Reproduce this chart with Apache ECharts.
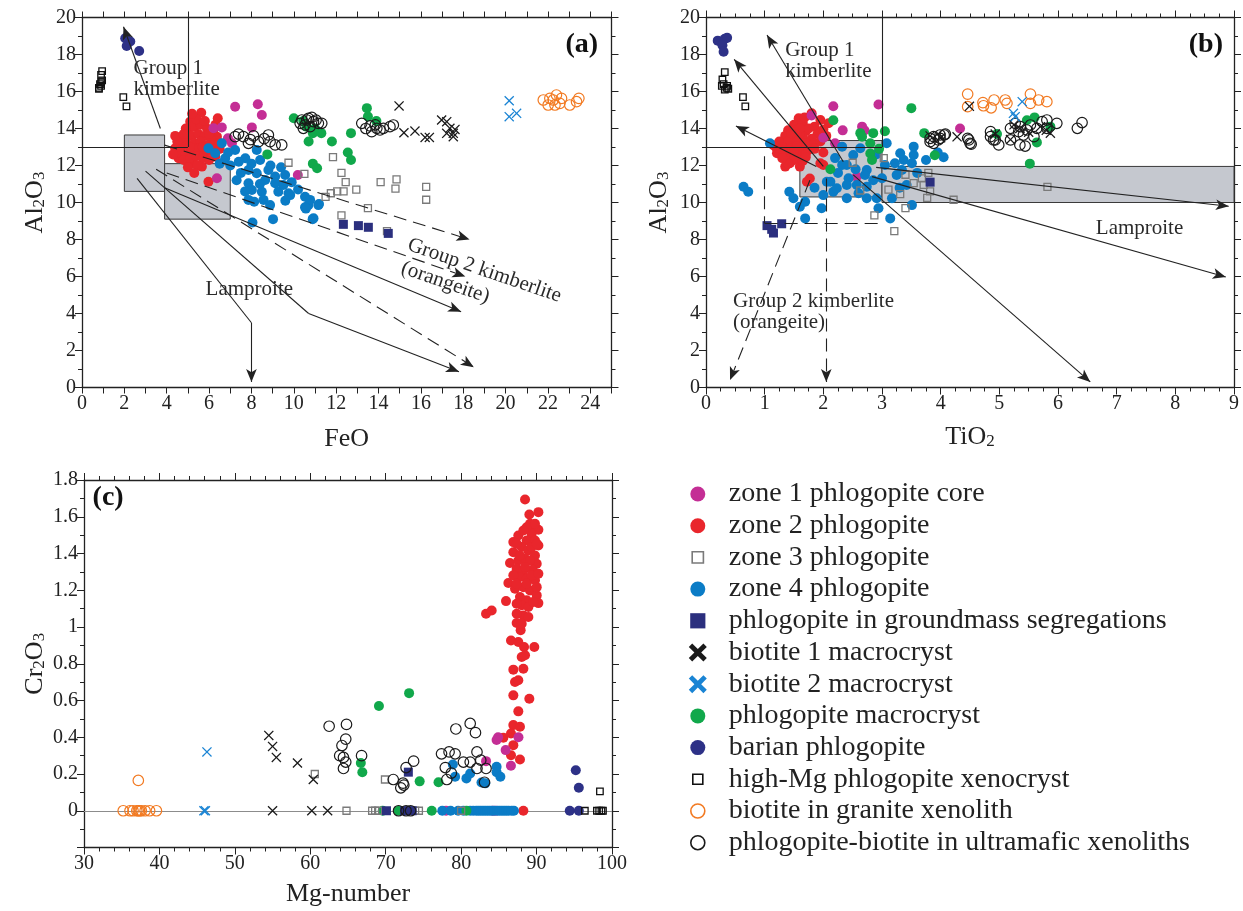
<!DOCTYPE html>
<html><head><meta charset="utf-8">
<script src="https://cdn.jsdelivr.net/npm/echarts@6/dist/echarts.min.js"></script>
<style>html,body{margin:0;padding:0;background:#fff}#c{width:1243px;height:911px}</style>
</head><body><div id="c"></div>
<script>
// ---------- tick labels ----------
const feoTicks = [0,2,4,6,8,10,12,14,16,18,20,22,24];
const alTicks = [0,2,4,6,8,10,12,14,16,18,20];
const tiTicks = [0,1,2,3,4,5,6,7,8,9];
const mgTicks = [30,40,50,60,70,80,90,100];
const crTicks = [0,0.2,0.4,0.6,0.8,1,1.2,1.4,1.6,1.8];

// ---------- legend names ----------
const seriesNames = ['zone 1 phlogopite core','zone 2 phlogopite','zone 3 phlogopite','zone 4 phlogopite',
 'phlogopite in groundmass segregations','biotite 1 macrocryst','biotite 2 macrocryst','phlogopite macrocryst',
 'barian phlogopite','high-Mg phlogopite xenocryst','biotite in granite xenolith','phlogopite-biotite in ultramafic xenoliths'];

// ---------- panel (a): FeO vs Al2O3 ----------
const zone1A = [[7.23,15.18],[8.3,15.31],[8.49,14.73],[6.21,14.01],[6.6,14.06],[6.89,13.47],[7.08,13.2],[8.02,14.06],[10.19,11.49],[6.37,11.31]];
const zone2A = [[5.63,14.85],[6.41,14.55],[5.11,14.37],[4.72,13.56],[4.4,12.93],[4.56,12.39],[5.19,12.12],[5.97,11.12],[5.66,11.94],[6.29,12.48],[6.37,13.56],
 [5.0,13.9],[5.3,14.1],[5.6,14.2],[5.9,14.0],[6.2,13.9],[4.9,13.4],[5.2,13.6],[5.5,13.7],[5.8,13.6],[6.1,13.4],[4.7,13.0],[5.0,13.1],[5.3,13.2],[5.6,13.3],[5.9,13.1],[6.2,13.1],
 [4.6,12.7],[4.9,12.6],[5.2,12.8],[5.5,12.9],[5.8,12.7],[6.1,12.8],[4.8,12.3],[5.1,12.4],[5.4,12.5],[5.7,12.4],[6.0,12.3],[5.45,12.0],[4.5,13.3],[5.4,14.5],[5.8,14.4],
 [6.0,13.7],[4.4,13.6],[4.3,12.6],[5.0,11.9],[6.5,13.2],[6.5,12.9],[5.3,11.6],[4.9,14.0],[5.7,13.0],[5.1,13.0],[4.8,13.7],[6.3,14.2],[5.2,14.8]];
const zone3A = [[9.75,12.15],[10.5,11.55],[11.85,12.45],[12.25,11.6],[12.45,11.1],[12.95,10.7],[12.35,10.6],[12.05,10.6],[11.75,10.5],[11.5,10.3],[14.1,11.1],[14.85,11.25],[14.8,10.75],[16.25,10.85],[16.25,10.15],[13.5,9.7],[12.25,9.3],[14.4,8.45]];
const zone4A = [[5.97,12.93],[6.29,12.66],[6.6,13.2],[6.76,12.39],[7.23,12.84],[7.71,12.39],[8.25,12.84],[8.41,12.3],[7.86,11.76],[8.25,11.58],[8.8,11.76],[9.12,11.4],[9.59,11.49],[8.65,11.22],[7.86,11.04],[8.02,10.68],[8.49,10.58],[9.12,11.04],[9.75,10.5],[9.27,10.58],[8.57,10.14],[8.88,9.86],[10.53,10.31],[10.69,9.86],[11.16,9.86],[7.86,10.14],[9.51,10.95],[9.83,10.4],[10.77,10.14],[10.53,9.74],[11.19,9.92],[10.93,9.15],[8.13,10.04],[9.02,9.1],[8.05,8.92],[10.57,9.67],[10.89,9.1],
 [7.0,12.0],[7.4,12.2],[6.9,12.7],[7.5,11.6],[8.0,12.1],[8.9,12.0],[9.4,11.9],[9.9,11.1],[8.4,11.0],[7.3,11.2],[6.5,12.1],[10.2,10.7],[7.7,10.6],[9.6,10.1]];
const groundA = [[12.34,8.82],[13.05,8.75],[13.52,8.66],[14.46,8.33]];
const bio1A = [[14.97,15.22],[15.2,13.77],[15.72,13.86],[16.2,13.52],[16.4,13.52],[16.98,14.46],[17.22,14.37],[17.61,13.95],[17.22,13.74],[17.53,13.74],[17.53,13.56],[17.37,14.01]];
const bio2A = [[20.17,15.5],[20.17,14.64],[20.52,14.82]];
const phlMacA = [[10.0,14.55],[10.45,14.4],[10.7,13.3],[10.9,13.75],[11.3,13.75],[11.8,13.3],[12.7,13.75],[13.45,15.1],[13.5,14.65],[13.9,14.4],[8.75,12.6],[10.9,12.1],[11.1,11.85],[12.55,12.7],[12.7,12.3],[10.6,14.1],[11.0,14.0]];
const barianA = [[2.04,18.88],[2.28,18.7],[2.11,18.46],[2.7,18.19]];
const highMgA = [[0.8,16.2],[0.9,16.3],[0.85,16.4],[0.8,16.15],[0.9,16.5],[0.95,16.6],[0.9,16.9],[0.95,17.1],[1.95,15.7],[2.1,15.2]];
const graniteA = [[21.78,15.54],[22.01,15.27],[22.25,15.54],[22.4,15.81],[22.64,15.63],[22.56,15.36],[23.03,15.27],[23.35,15.45],[23.46,15.63],[22.09,15.63],[22.33,15.27]];
const ultraA = [[7.23,13.56],[7.39,13.7],[7.62,13.56],[7.86,13.2],[8.1,13.6],[8.33,13.29],[8.8,13.65],[8.88,13.29],[9.12,13.11],[9.43,13.11],[8.6,13.45],[7.95,13.4],
 [10.3,14.28],[10.38,14.46],[10.61,14.46],[10.69,14.55],[10.93,14.37],[11.16,14.28],[11.32,14.28],[10.45,14.01],[10.77,14.1],[10.53,14.19],[10.85,14.6],[11.05,14.45],
 [13.21,14.28],[13.6,14.14],[13.92,14.01],[14.23,14.01],[14.54,14.1],[14.7,14.19],[13.68,13.83],[14.07,13.92],[13.4,14.0],[13.85,14.2]];

// ---------- panel (b): TiO2 vs Al2O3 ----------
const zone1B = [[2.17,15.2],[2.94,15.3],[1.8,14.7],[2.33,13.9],[2.0,13.5],[2.66,14.1],[2.7,13.9],[2.2,13.2],[2.57,11.4],[4.33,14.0]];
const zone2B = [[1.8,14.82],[1.58,14.55],[1.95,14.46],[2.09,14.28],[1.21,12.66],[1.35,11.94],[1.43,12.12],[1.6,11.94],[1.95,12.12],[1.77,11.3],[1.72,11.12],
 [1.5,14.2],[1.65,14.3],[1.85,14.1],[2.0,13.95],[1.4,13.9],[1.55,13.95],[1.7,13.85],[1.9,13.7],[1.35,13.6],[1.5,13.6],[1.65,13.5],[1.8,13.45],[1.25,13.3],[1.4,13.3],[1.55,13.25],[1.7,13.2],[1.85,13.2],
 [1.3,13.0],[1.45,12.95],[1.6,12.9],[1.75,12.85],[1.25,12.7],[1.4,12.6],[1.55,12.55],[1.7,12.6],[1.35,12.35],[1.5,12.3],[1.65,12.25],[1.45,13.75],[1.6,13.7],[1.75,14.0],[1.3,12.85],[1.55,13.05],
 [1.2,12.95],[1.15,13.1],[1.6,14.0],[2.05,13.6],[1.95,13.3],[1.4,12.1],[1.3,12.4],[1.5,12.75],[1.7,12.45],[1.85,12.9],[2.0,12.7],[1.68,14.6],[2.0,12.03]];
const zone3B = [[2.5,12.15],[3.03,12.4],[3.4,11.5],[3.79,11.6],[3.68,11.3],[3.54,11.05],[3.71,10.95],[3.82,10.6],[3.77,10.25],[4.22,10.15],[3.11,10.7],[3.31,10.45],[3.4,9.7],[2.87,9.3],[3.21,8.45],[2.63,10.65],[5.82,10.85]];
const zone4B = [[1.09,13.2],[0.64,10.85],[0.72,10.58],[1.42,10.58],[1.49,10.23],[1.6,9.77],[1.69,10.04],[1.69,9.14],[1.97,9.69],[2.0,10.4],[2.06,11.12],[2.12,11.12],[2.17,10.58],[2.23,10.77],[2.32,12.03],[2.4,12.03],[2.32,13.02],[2.51,12.57],[2.43,11.31],[2.4,10.95],[2.4,10.23],[2.57,10.95],[2.63,12.93],[2.74,11.76],[2.71,11.49],[2.74,10.85],[2.74,10.23],[2.91,10.23],[2.94,9.69],[3.14,9.14],[3.0,11.31],[3.05,12.03],[3.08,13.2],[3.22,12.12],[3.31,12.66],[3.37,12.3],[3.34,11.76],[3.51,12.12],[3.54,12.57],[3.54,13.02],[3.51,9.86],[3.17,10.23],[3.42,10.95],[3.25,11.49],
 [2.9,12.6],[2.2,12.4],[2.55,11.8],[2.85,11.2],[3.6,11.6],[3.75,12.3],[3.95,12.7],[4.05,12.45],[1.85,10.8],[2.25,11.6],[2.6,10.5],[3.3,10.8]];
const groundB = [[1.04,8.75],[1.12,8.55],[1.15,8.35],[1.29,8.85],[3.82,11.1]];
const bio1B = [[4.49,15.2],[4.28,13.55],[3.82,13.6],[4.93,13.7],[5.19,13.4],[5.87,13.75],[5.8,13.9],[5.35,14.0],[5.5,13.8],[4.0,13.5],[5.7,14.1],[5.25,14.2]];
const bio2B = [[5.39,15.45],[5.24,14.82],[5.27,14.64]];
const phlMacB = [[2.17,14.45],[3.5,15.1],[2.63,13.75],[2.66,13.55],[2.85,13.75],[2.8,13.2],[2.8,12.65],[2.83,12.3],[2.12,11.8],[3.05,13.85],[3.72,13.75],[3.9,12.55],[5.47,14.45],[5.6,14.6],[4.96,13.7],[5.64,13.25],[5.52,12.1],[5.87,14.1],[2.95,12.9]];
const barianB = [[0.2,18.75],[0.32,18.85],[0.36,18.9],[0.28,18.5],[0.3,18.15]];
const highMgB = [[0.32,17.05],[0.28,16.65],[0.3,16.4],[0.35,16.2],[0.32,16.1],[0.38,16.15],[0.27,16.3],[0.36,16.3],[0.63,15.7],[0.67,15.2]];
const graniteB = [[4.46,15.86],[4.46,15.18],[4.72,15.4],[4.73,15.23],[4.86,15.12],[4.91,15.54],[5.1,15.54],[5.13,15.36],[5.53,15.86],[5.53,15.36],[5.67,15.54],[5.81,15.45]];
const ultraB = [[3.82,13.47],[3.96,13.38],[4.06,13.65],[4.46,13.47],[4.52,13.15],[4.85,13.83],[4.93,13.38],[4.99,13.11],[5.19,13.38],[5.35,13.11],[5.44,13.05],[5.27,14.28],[5.36,14.1],[5.47,13.92],[5.53,14.19],[5.64,14.01],[5.73,14.37],[5.81,14.46],[5.98,14.28],[5.33,13.83],[5.19,14.01],[6.33,14.01],[6.41,14.32],[5.41,13.65],[5.59,13.56],[5.81,14.01],
 [3.88,13.2],[3.99,13.47],[3.82,13.29],[3.88,13.56],[3.99,13.65],[4.08,13.7],[4.48,13.38],[4.5,13.2],[4.85,13.56],[4.9,13.38]];

// ---------- panel (c): Mg-number vs Cr2O3 ----------
const zone1C = [[84.9,0.40],[84.7,0.385],[87.6,0.40],[85.9,0.33],[83.3,0.27],[86.6,0.245],[78,0],[84.2,0],[84.6,0]];
const zone2C = [[88.47,1.694],[89.04,1.612],[90.24,1.625],[89.13,1.562],[89.57,1.534],[90.24,1.529],[87.58,1.498],[89.35,1.507],[86.92,1.462],[88.69,1.471],[89.79,1.471],[90.24,1.444],[86.92,1.407],[88.03,1.435],[88.91,1.417],[89.79,1.389],[86.48,1.348],[87.58,1.362],[88.47,1.371],[90.02,1.344],[87.36,1.317],[88.25,1.308],[89.48,1.312],[87.8,1.272],[88.69,1.263],[89.79,1.254],[86.26,1.239],[87.14,1.208],[88.25,1.217],[89.13,1.199],[90.02,1.172],[87.8,1.163],[88.69,1.145],[85.95,1.141],[90.24,1.13],[88.03,1.118],[88.91,1.109],[83.3,1.072],[84.05,1.09],[88.25,1.063],[87.36,1.022],[87.89,0.982],[86.61,0.927],[87.58,0.918],[88.34,0.891],[89.7,0.891],[88.03,0.837],[88.47,0.846],[86.92,0.768],[88.25,0.773],[87.14,0.701],[87.58,0.71],[86.92,0.628],[89.04,0.61],[87.58,0.541],[86.92,0.466],[87.8,0.457],[86.61,0.42],[85.6,0.397],[86.92,0.357],[86.61,0.302],[87.8,0.279],[88.25,0],
 [88.69,1.543],[89.35,1.435],[87.8,1.389],[89.13,1.362],[86.92,1.281],[89.35,1.281],[90.02,1.217],[87.36,1.127],[89.57,1.136],[87.36,1.072],[88.91,1.054],[88.25,1.525],[89.79,1.562],[87.36,1.453],[88.47,1.326],[87.36,1.235],[88.69,1.235],[88.03,1.018],[90.02,1.453],[90.24,1.29]];
const zone3C = [[60.6,0.2],[69.9,0.17],[64.8,0],[68.2,0],[68.6,0],[69.0,0],[73.9,0],[74.4,0],[80.0,0]];
const zone4C = [[78.9,0.252],[79.2,0.185],[80.7,0.176],[81.2,0.203],[82.7,0.154],[83.2,0.149],[84.7,0.239],[84.7,0.21],[85.2,0.185],
 [77.5,0],[78.6,0],[79.6,0],[80.3,0],[81.2,0],[81.6,0],[82.0,0],[82.3,0],[82.6,0],[82.9,0],[83.2,0],[83.5,0],[83.8,0],[84.1,0],[84.4,0],[84.8,0],[85.1,0],[85.4,0],[85.7,0],[86.0,0],[86.3,0],[86.7,0],[87.0,0]];
const groundC = [[73,0.21],[70.1,0],[73,0],[73.5,0],[72.5,0]];
const bio1C = [[54.5,0.41],[55,0.35],[55.5,0.29],[58.3,0.26],[60.4,0.17],[55,0],[60.2,0],[62.3,0]];
const bio2C = [[46.3,0.32],[45.9,0],[46.1,0]];
const phlMacC = [[69.1,0.57],[73.1,0.64],[66.7,0.26],[66.9,0.21],[74.5,0.16],[77.0,0.155],[69.6,0],[71.7,0],[76.1,0],[80.7,0]];
const barianC = [[95.2,0.22],[95.6,0.125],[94.4,0],[95.6,0]];
const highMgC = [[98.4,0.105],[96.4,0],[98.0,0],[98.3,0],[98.6,0],[98.8,0]];
const graniteC = [[37.2,0.165],[35.2,0],[36.1,0],[36.5,0],[37,0],[37.2,0],[37.6,0],[38.1,0],[38.7,0],[39.6,0],[37.4,0]];
const ultraC = [[62.5,0.46],[64.8,0.47],[64.7,0.39],[64.2,0.355],[63.9,0.30],[64.4,0.29],[64.7,0.265],[64.4,0.23],[66.8,0.30],[79.3,0.445],[81.2,0.475],[81.9,0.425],[77.4,0.31],[78.4,0.32],[79.2,0.31],[80.3,0.265],[81.2,0.265],[82.1,0.32],[82.6,0.275],[77.9,0.235],[78.7,0.205],[78.1,0.17],[83.3,0.23],[82.1,0.23],[83.1,0.155],[73.7,0.27],[72.7,0.235],[71.0,0.17],[72.3,0.15],[72.0,0.125],[72.4,0.14],[71.7,0],[72.7,0],[73.3,0]];

// ---------- annotations (data coordinates) ----------
const boxesA = [[2.0,10.6,3.9,13.65],[3.9,9.1,7.0,12.1]];
const guidesA = [
 {p:[[0,13],[5,13]]},{p:[[5,13],[5,20]]},
 {p:[[3.7,14.0],[1.96,19.5]],arrow:true},
 {p:[[2.6,11.3],[8.0,3.5]]},{p:[[8.0,3.5],[8.0,0.3]],arrow:true},
 {p:[[3.0,11.7],[10.7,4.0]]},{p:[[10.7,4.0],[17.8,0.85]],arrow:true},
 {p:[[3.5,11.8],[18.5,1.1]],dash:true,arrow:true},
 {p:[[3.9,10.8],[17.9,4.1]],arrow:true},
 {p:[[4.0,11.6],[18.1,6.0]],dash:true,arrow:true},
 {p:[[3.9,13.1],[18.3,8.0]],dash:true,arrow:true}
];
const notesA = [
 {t:'Group 1\nkimberlite',x:2.43,y:16.65,align:'left'},
 {t:'Lamproite',x:7.9,y:5.3},
 {t:'Group 2 kimberlite',x:19.0,y:6.32,rot:-19},
 {t:'(orangeite)',x:17.15,y:5.67,rot:-19},
 {t:'(a)',x:23.6,y:18.5,bold:true}
];
const boxesB = [[1.6,10.3,3.0,13.35],[3.0,10.0,9.0,11.95]];
const guidesB = [
 {p:[[0,13],[3,13]]},{p:[[3,13],[3,20]]},
 {p:[[2.34,12.2],[1.04,19.05]],arrow:true},
 {p:[[2.0,11.95],[0.48,17.74]],arrow:true},
 {p:[[1.88,11.95],[0.51,14.14]],arrow:true},
 {p:[[2.9,11.9],[8.91,9.8]],arrow:true},
 {p:[[2.83,11.4],[8.86,5.97]],arrow:true},
 {p:[[2.51,11.49],[6.55,0.3]],arrow:true},
 {p:[[1.0,12.5],[1.0,8.88]],dash:true},{p:[[1.0,8.88],[3.0,8.88]],dash:true},
 {p:[[2.05,11.3],[2.05,0.3]],dash:true,arrow:true},
 {p:[[1.77,11.2],[0.41,0.4]],dash:true,arrow:true}
];
const notesB = [
 {t:'Group 1\nkimberlite',x:1.35,y:17.63,align:'left'},
 {t:'Lamproite',x:7.39,y:8.6},
 {t:'Group 2 kimberlite\n(orangeite)',x:0.46,y:4.08,align:'left'},
 {t:'(b)',x:8.52,y:18.5,bold:true}
];
const notesC = [{t:'(c)',x:33.2,y:1.705,bold:true}];

// ---------- styling ----------
const FONT = 'Liberation Serif';
const INK = '#222';
const XPATH = 'path://M0,0.9L0.9,0L5,4.1L9.1,0L10,0.9L5.9,5L10,9.1L9.1,10L5,5.9L0.9,10L0,9.1L4.1,5Z';
const PAD = 'M0,0M100,100';
const L_CIRCLE = 'path://'+PAD+'M12.5,50A37.5,37.5,0,1,1,87.5,50A37.5,37.5,0,1,1,12.5,50Z';
const L_OCIRCLE = 'path://'+PAD+'M15,50A35,35,0,1,1,85,50A35,35,0,1,1,15,50Z';
const L_SQ3 = 'path://'+PAD+'M22,22L78,22L78,78L22,78Z';
const L_SQG = 'path://'+PAD+'M12,12L88,12L88,88L12,88Z';
const L_SQH = 'path://'+PAD+'M25,25L75,25L75,75L25,75Z';
const L_X = 'path://'+PAD+'M5,22L22,5L50,33L78,5L95,22L67,50L95,78L78,95L50,67L22,95L5,78L33,50Z';

const styles = [
 {symbol:'circle',size:10,fill:'#c42e95',stroke:'#c42e95',bw:0,icon:L_CIRCLE},
 {symbol:'circle',size:10,fill:'#e9262c',stroke:'#e9262c',bw:0,icon:L_CIRCLE},
 {symbol:'rect',size:7,fill:'rgba(255,255,255,0)',stroke:'#7a7a7a',bw:1.3,icon:L_SQ3},
 {symbol:'circle',size:10,fill:'#0b7cc6',stroke:'#0b7cc6',bw:0,icon:L_CIRCLE},
 {symbol:'rect',size:9,fill:'#2b2f7e',stroke:'#2b2f7e',bw:0,icon:L_SQG},
 {symbol:XPATH,size:10,fill:'#1a1a1a',stroke:'#1a1a1a',bw:0,icon:L_X},
 {symbol:XPATH,size:10,fill:'#1a84d4',stroke:'#1a84d4',bw:0,icon:L_X},
 {symbol:'circle',size:10,fill:'#11a84b',stroke:'#11a84b',bw:0,icon:L_CIRCLE},
 {symbol:'circle',size:10,fill:'#2d3187',stroke:'#2d3187',bw:0,icon:L_CIRCLE},
 {symbol:'rect',size:6.5,fill:'rgba(255,255,255,0)',stroke:'#111',bw:1.3,icon:L_SQH},
 {symbol:'circle',size:10.5,fill:'rgba(255,255,255,0)',stroke:'#f27a22',bw:1.2,icon:L_OCIRCLE},
 {symbol:'circle',size:10.5,fill:'rgba(255,255,255,0)',stroke:'#1a1a1a',bw:1.2,icon:L_OCIRCLE}
];
const panelData = [
 [zone1A,zone2A,zone3A,zone4A,groundA,bio1A,bio2A,phlMacA,barianA,highMgA,graniteA,ultraA],
 [zone1B,zone2B,zone3B,zone4B,groundB,bio1B,bio2B,phlMacB,barianB,highMgB,graniteB,ultraB],
 [zone1C,zone2C,zone3C,zone4C,groundC,bio1C,bio2C,phlMacC,barianC,highMgC,graniteC,ultraC]
];
const drawOrder = [1,0,3,7,2,4,8,9,11,10,5,6];

const rich = {
 m:{fontFamily:FONT,fontSize:26,color:INK,lineHeight:30,verticalAlign:'bottom'},
 s:{fontFamily:FONT,fontSize:17,color:INK,lineHeight:15,verticalAlign:'bottom'}
};
const lineCol = {color:INK,width:1.3};
function axis(kind, gi, mirror, cfg){
 const a = {
  type:'value', gridIndex:gi, min:cfg.min, max:cfg.max, interval:cfg.interval,
  position: kind==='x' ? (mirror?'top':'bottom') : (mirror?'right':'left'),
  axisLine:{show:true,onZero:false,lineStyle:lineCol},
  axisTick:{show:true,inside:false,length:cfg.tickLen||7,lineStyle:{color:INK,width:1}},
  minorTick:{show:!!cfg.minor,splitNumber:cfg.minor||5,length:4,lineStyle:{color:INK,width:1}},
  splitLine:{show:false}, minorSplitLine:{show:false},
  axisLabel:{show:!mirror,fontFamily:FONT,fontSize:20,color:INK,margin:6,
    formatter:(v)=>{ const r=Math.round(v*1000)/1000; return cfg.labels.some(t=>Math.abs(t-r)<1e-6) ? String(r) : ''; }},
  silent:true
 };
 if(!mirror){ a.name=cfg.name; a.nameLocation='middle'; a.nameGap=cfg.gap; a.nameRotate = kind==='y'?90:0;
   a.nameTextStyle={rich:rich,fontFamily:FONT,fontSize:26,color:INK}; }
 return a;
}
const xCfg = [
 {min:0,max:25,interval:1,tickLen:6,labels:feoTicks,name:'{m|FeO}',gap:35},
 {min:0,max:9,interval:1,minor:4,labels:tiTicks,name:'{m|TiO}{s|2}',gap:33},
 {min:30,max:100,interval:10,minor:5,labels:mgTicks,name:'{m|Mg-number}',gap:30}
];
const yCfg = [
 {min:0,max:20,interval:2,minor:2,labels:alTicks,name:'{m|Al}{s|2}{m|O}{s|3}',gap:34},
 {min:0,max:20,interval:2,minor:2,labels:alTicks,name:'{m|Al}{s|2}{m|O}{s|3}',gap:34},
 {min:-0.2,max:1.8,interval:0.2,minor:2,labels:crTicks,name:'{m|Cr}{s|2}{m|O}{s|3}',gap:36}
];
const xAxes=[], yAxes=[];
for(let m=0;m<2;m++) for(let g=0;g<3;g++){ xAxes.push(axis('x',g,m===1,xCfg[g])); yAxes.push(axis('y',g,m===1,yCfg[g])); }

const series = [];
for(let g=0; g<3; g++){
 for(const k of drawOrder){
  const st = styles[k];
  series.push({type:'scatter', name:seriesNames[k], xAxisIndex:g, yAxisIndex:g, data:panelData[g][k],
   symbol:st.symbol, symbolSize:st.size, silent:true, z:2,
   itemStyle:{color:st.fill, borderColor:st.stroke, borderWidth:st.bw, opacity:1},
   emphasis:{disabled:true}});
 }
}
function noteItems(notes){
 return notes.map(n=>({name:n.t, value:[n.x,n.y], label:{show:true, formatter:'{b}', position:'inside',
   fontFamily:FONT, fontSize:n.bold?28:21, fontWeight:n.bold?'bold':'normal', color:n.bold?'#111':'#2a2a2a', lineHeight:21,
   textBorderWidth:0, textBorderColor:'transparent', textShadowBlur:0, opacity:1,
   align:n.align||'center', verticalAlign:'middle', rotate:n.rot||0}}));
}
function guideItems(gs){
 return gs.map(l=>[
  {coord:l.p[0], symbol:'none', lineStyle:{type:l.dash?[13,7]:'solid', color:INK, width:1.1}},
  {coord:l.p[1], symbol:l.arrow?'arrow':'none', symbolSize:[8,13]}]);
}
function boxItems(bs){ return bs.map(b=>[{coord:[b[0],b[1]]},{coord:[b[2],b[3]]}]); }
const notePanels = [[notesA,guidesA,boxesA],[notesB,guidesB,boxesB],[notesC,[],[]]];
notePanels.forEach((np,g)=>{
 const s = {type:'scatter', name:'notes'+g, xAxisIndex:g, yAxisIndex:g, symbolSize:1, silent:true, z:6,
  itemStyle:{color:'rgba(0,0,0,0)'}, data:noteItems(np[0]), emphasis:{disabled:true}};
 if(np[2].length) s.markArea = {silent:true, label:{show:false}, itemStyle:{color:'#c5c8cf',borderColor:'#3a3a3a',borderWidth:1}, data:boxItems(np[2])};
 if(np[1].length) s.markLine = {silent:true, animation:false, symbol:['none','none'], label:{show:false}, lineStyle:{color:INK,width:1.1}, data:guideItems(np[1])};
 if(g===2) s.markLine = {silent:true, animation:false, z:1, symbol:['none','none'], label:{show:false}, lineStyle:{color:'#8c8c8c',width:1.2,type:'solid'}, data:[{yAxis:0}]};
 series.push(s);
});

const legendData = seriesNames.map((n,i)=>({name:n, icon:styles[i].icon,
 itemStyle:{color:styles[i].fill, borderColor:styles[i].stroke, borderWidth:styles[i].bw? 1.6:0, opacity:1}}));

const option = {
 animation:false, backgroundColor:'#fff',
 grid:[{left:82,top:17.5,width:529.5,height:370},{left:706,top:17.5,width:528,height:370},{left:84,top:480,width:528,height:367.5}],
 xAxis:xAxes, yAxis:yAxes, series:series,
 legend:{orient:'vertical', left:682, top:475, itemWidth:52, itemHeight:20, itemGap:3.7, selectedMode:false,
  textStyle:{fontFamily:FONT,fontSize:28,color:INK}, data:legendData},
 tooltip:{show:false}
};
const chart = echarts.init(document.getElementById('c'), null, {renderer:'canvas'});
chart.setOption(option);
</script></body></html>
